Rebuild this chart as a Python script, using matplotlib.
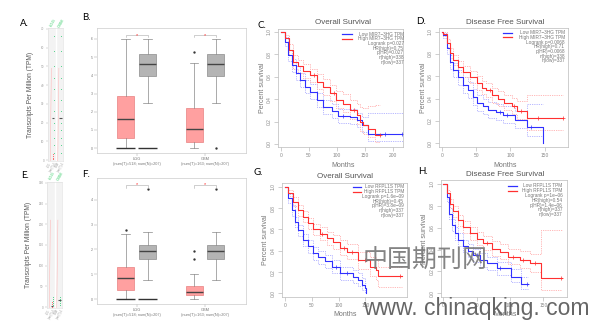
import matplotlib
matplotlib.use("Agg")
import matplotlib.pyplot as plt
from matplotlib.lines import Line2D

W, H = 594, 321
fig = plt.figure(figsize=(W / 100, H / 100), dpi=100)
fig.patch.set_facecolor("white")
plt.rcParams["font.family"] = ["Liberation Sans", "DejaVu Sans"]

RED = "#ff3030"
BLUE = "#3030ff"
PINK = "#ffb0b0"
LBLUE = "#b0b0ff"
GRAY = "#555555"

def fx(x):
    return x / W

def fy(y):
    return 1 - y / H

def add_ax(x0, y0, x1, y1):
    return fig.add_axes([fx(x0), fy(y1), (x1 - x0) / W, (y1 - y0) / H])

def ftext(x, y, s, **kw):
    fig.text(fx(x), fy(y), s, **kw)

# ---------------- data: boxplots (B, F) ----------------
groups = ["LGG", "GBM"]
group_sub = ["(num(T)=518; num(N)=207)", "(num(T)=163; num(N)=207)"]
b_ticks = [0, 1, 2, 3, 4, 5, 6]
b_med = [1.6, 4.6, 1.04, 4.6]
b_q1 = [0.55, 3.96, 0.33, 3.96]
b_q3 = [2.86, 5.16, 2.2, 5.16]
b_lo = [0.0, 2.47, 0.0, 2.47]
b_hi = [6.0, 6.0, 4.7, 6.0]
b_fly = [[], [], [5.3], [0.0]]
b_zero = [True, True, False, False]

f_ticks = [0, 1, 2, 3, 4]
f_med = [0.84, 1.95, 0.3, 1.95]
f_q1 = [0.38, 1.6, 0.15, 1.6]
f_q3 = [1.3, 2.18, 0.54, 2.18]
f_lo = [0.0, 0.77, 0.0, 0.77]
f_hi = [2.62, 2.71, 1.0, 2.71]
f_fly = [[2.78], [4.42], [1.95, 1.6], [4.42]]
f_zero = [True, True, False, False]

# ---------------- data: survival ----------------
c_t_high = [0, 7.6, 15.3, 22.4, 31, 40, 52, 64, 76, 88, 99, 111, 123, 135, 140, 146, 155, 168, 176]
c_s_high = [1.0, 0.94, 0.84, 0.73, 0.69, 0.65, 0.61, 0.555, 0.505, 0.45, 0.39, 0.36, 0.30, 0.26, 0.20, 0.17, 0.13, 0.08, 0.08]
c_up_high = [1.0, 0.97, 0.89, 0.79, 0.75, 0.71, 0.67, 0.62, 0.575, 0.525, 0.47, 0.445, 0.39, 0.355, 0.33, 0.32, 0.34, 0.35, 0.35]
c_lo_high = [1.0, 0.91, 0.79, 0.67, 0.63, 0.59, 0.55, 0.49, 0.44, 0.38, 0.32, 0.285, 0.22, 0.18, 0.12, 0.09, 0.06, 0.02, 0.02]
c_cens_high = [60, 95, 130, 176]
c_t_low = [0, 7.6, 13.6, 20.6, 26.6, 34, 43, 52, 64, 76, 90.6, 102, 123, 135, 144, 155, 218]
c_s_low = [1.0, 0.91, 0.79, 0.70, 0.63, 0.57, 0.51, 0.466, 0.39, 0.33, 0.29, 0.25, 0.243, 0.21, 0.17, 0.089, 0.089]
c_up_low = [1.0, 0.95, 0.84, 0.76, 0.69, 0.63, 0.57, 0.53, 0.455, 0.395, 0.355, 0.315, 0.31, 0.28, 0.24, 0.28, 0.28]
c_lo_low = [1.0, 0.87, 0.74, 0.64, 0.57, 0.51, 0.45, 0.40, 0.33, 0.27, 0.23, 0.19, 0.18, 0.15, 0.11, 0.03, 0.03]
c_cens_low = [110, 185, 215]

d_t_high = [0, 2.4, 7.3, 12, 17, 24, 31, 41, 51, 58, 65, 73, 82, 90, 102, 109, 124.5, 177]
d_s_high = [1.0, 0.98, 0.895, 0.805, 0.745, 0.685, 0.64, 0.596, 0.54, 0.50, 0.477, 0.43, 0.40, 0.363, 0.33, 0.29, 0.23, 0.23]
d_up_high = [1.0, 1.0, 0.93, 0.85, 0.79, 0.735, 0.69, 0.65, 0.60, 0.56, 0.54, 0.50, 0.47, 0.435, 0.41, 0.375, 0.43, 0.43]
d_lo_high = [1.0, 0.96, 0.86, 0.76, 0.70, 0.635, 0.59, 0.54, 0.48, 0.44, 0.415, 0.365, 0.335, 0.295, 0.26, 0.215, 0.12, 0.12]
d_cens_high = [70, 105, 115, 140, 176]
d_t_low = [0, 2.4, 7.3, 12, 17, 24, 31, 38, 45, 52, 60, 67, 79, 89, 106, 124.5, 147]
d_s_low = [1.0, 0.97, 0.85, 0.73, 0.656, 0.59, 0.52, 0.477, 0.417, 0.358, 0.33, 0.30, 0.283, 0.253, 0.21, 0.15, 0.0]
d_up_low = [1.0, 0.99, 0.90, 0.79, 0.72, 0.655, 0.59, 0.55, 0.49, 0.43, 0.40, 0.37, 0.355, 0.33, 0.29, 0.35, 0.35]
d_lo_low = [1.0, 0.94, 0.80, 0.67, 0.59, 0.52, 0.45, 0.405, 0.345, 0.29, 0.26, 0.23, 0.21, 0.18, 0.14, 0.07, 0.07]
d_cens_low = [85, 95, 130]

g_t_high = [0, 6.2, 15.6, 25, 34, 43.6, 53, 65, 78, 90, 103, 115, 137, 159, 171, 174, 218]
g_s_high = [1.0, 0.94, 0.86, 0.78, 0.72, 0.656, 0.60, 0.56, 0.515, 0.48, 0.43, 0.39, 0.31, 0.25, 0.22, 0.16, 0.16]
g_up_high = [1.0, 0.97, 0.90, 0.83, 0.77, 0.71, 0.655, 0.62, 0.575, 0.545, 0.50, 0.46, 0.39, 0.34, 0.32, 0.25, 0.25]
g_lo_high = [1.0, 0.91, 0.82, 0.73, 0.67, 0.60, 0.545, 0.50, 0.455, 0.415, 0.36, 0.32, 0.23, 0.16, 0.13, 0.06, 0.06]
g_cens_high = [70, 110, 125, 150, 215]
g_t_low = [0, 6.2, 12.5, 18.7, 25, 34, 43.6, 53, 62, 75, 87, 103, 128, 137, 143, 149.5, 151]
g_s_low = [1.0, 0.89, 0.78, 0.67, 0.59, 0.50, 0.44, 0.375, 0.34, 0.30, 0.25, 0.19, 0.156, 0.125, 0.078, 0.047, 0.0]
g_up_low = [1.0, 0.93, 0.83, 0.72, 0.645, 0.56, 0.50, 0.435, 0.40, 0.36, 0.31, 0.25, 0.22, 0.19, 0.14, 0.10, 0.10]
g_lo_low = [1.0, 0.85, 0.73, 0.62, 0.535, 0.44, 0.38, 0.315, 0.28, 0.24, 0.19, 0.13, 0.10, 0.07, 0.03, 0.01, 0.0]
g_cens_low = [95, 115]

h_t_high = [0, 5, 10, 15, 22.5, 30, 40, 50, 60, 72.5, 85, 97.5, 115, 130, 146, 177.5]
h_s_high = [1.0, 0.915, 0.82, 0.75, 0.67, 0.61, 0.55, 0.50, 0.457, 0.41, 0.38, 0.335, 0.305, 0.275, 0.137, 0.137]
h_up_high = [1.0, 0.95, 0.86, 0.80, 0.72, 0.665, 0.61, 0.56, 0.52, 0.475, 0.45, 0.41, 0.385, 0.36, 0.58, 0.58]
h_lo_high = [1.0, 0.88, 0.78, 0.70, 0.62, 0.555, 0.49, 0.44, 0.395, 0.345, 0.31, 0.265, 0.23, 0.195, 0.03, 0.03]
h_cens_high = [65, 105, 120, 138, 176]
h_t_low = [0, 5, 9, 12.5, 17.5, 22.5, 30, 37.5, 45, 55, 65, 80, 101, 116, 127.5]
h_s_low = [1.0, 0.88, 0.73, 0.625, 0.55, 0.49, 0.433, 0.39, 0.35, 0.305, 0.275, 0.23, 0.152, 0.085, 0.085]
h_up_low = [1.0, 0.92, 0.78, 0.68, 0.61, 0.55, 0.49, 0.45, 0.41, 0.365, 0.335, 0.29, 0.22, 0.15, 0.15]
h_lo_low = [1.0, 0.84, 0.68, 0.57, 0.49, 0.43, 0.375, 0.33, 0.29, 0.245, 0.215, 0.17, 0.10, 0.04, 0.04]
h_cens_low = [50, 85, 125]

surv_ticks_x_c = [0, 50, 100, 150, 200]
surv_ticks_x_d = [0, 50, 100, 150]
surv_ticks_y = [0.0, 0.2, 0.4, 0.6, 0.8, 1.0]

legend_c = ["Low MIR7\u22123HG TPM", "High MIR7\u22123HG TPM", "Logrank p=0.027", "HR(high)=0.75",
            "p(HR)=0.027", "n(high)=338", "n(low)=337"]
legend_d = ["Low MIR7\u22123HG TPM", "High MIR7\u22123HG TPM", "Logrank p=0.0068", "HR(high)=0.71",
            "p(HR)=0.0068", "n(high)=338", "n(low)=337"]
legend_g = ["Low RFPL1S TPM", "High RFPL1S TPM", "Logrank p=1.6e\u221209", "HR(high)=0.45",
            "p(HR)=3.8e\u221209", "n(high)=337", "n(low)=337"]
legend_h = ["Low RFPL1S TPM", "High RFPL1S TPM", "Logrank p=1e\u221206", "HR(high)=0.54",
            "p(HR)=1.4e\u221206", "n(high)=337", "n(low)=337"]

# ---------------- data: narrow panels (A, E) ----------------
a_ticks = [0, 10, 20, 30, 40, 50, 60, 70]
a_median = [22.7, 22.7]
a_tumor_pts = [0.5, 1.0, 2.0, 3.5]
a_normal_pts = [4, 8, 12, 16, 20, 26, 32, 38, 44, 50, 58, 66]
e_ticks = [0, 50, 100, 150, 200, 250, 300]
e_median = [3, 18]
e_tumor_pts = [1, 4, 8, 12]
e_normal_pts = [5, 10, 15, 20, 25]


# ---------------- box plot panels ----------------
def box_panel(rect, ticks, med, q1, q3, lo, hi, fly, zero, ylim, bracket_y):
    ax = add_ax(*rect)
    pos = []
    for g in range(len(groups)):
        pos += [g + 1 - 0.16, g + 1 + 0.16]
    stats = []
    for i in range(4):
        stats.append(dict(med=med[i], q1=q1[i], q3=q3[i], whislo=lo[i], whishi=hi[i], fliers=fly[i]))
    bp = ax.bxp(stats, positions=pos, widths=0.25, patch_artist=True, showcaps=True,
                boxprops=dict(linewidth=0.5),
                medianprops=dict(color="#444444", linewidth=1.0),
                whiskerprops=dict(color="#888888", linewidth=0.5),
                capprops=dict(color="#888888", linewidth=0.5),
                flierprops=dict(marker="o", markersize=0.7, markerfacecolor="#333333",
                                markeredgecolor="#333333"))
    for i, patch in enumerate(bp["boxes"]):
        if i % 2 == 0:
            patch.set_facecolor("#ffa0a0")
            patch.set_edgecolor("#e88080")
        else:
            patch.set_facecolor("#b4b4b4")
            patch.set_edgecolor("#8c8c8c")
    for i in range(4):
        if zero[i]:
            ax.hlines(0, pos[i] - 0.14, pos[i] + 0.14, color="#333333", linewidth=1.0)
    for g in range(len(groups)):
        x0, x1 = pos[2 * g], pos[2 * g + 1]
        ax.plot([x0, x0, x1, x1], [bracket_y - 0.12, bracket_y, bracket_y, bracket_y - 0.12],
                color="#aaaaaa", linewidth=0.4)
        ax.text((x0 + x1) / 2, bracket_y, "*", color=RED, fontsize=4, ha="center", va="center")
    ax.set_xlim(0.42, 2.6)
    ax.set_ylim(*ylim)
    ax.set_yticks(ticks)
    ax.set_yticklabels([str(t) for t in ticks], fontsize=2.5, color=GRAY)
    ax.set_xticks([1, 2])
    ax.set_xticklabels([f"{g}\n{s}" for g, s in zip(groups, group_sub)], fontsize=2.8,
                       color="#777777", linespacing=1.3)
    ax.tick_params(length=2, width=0.3, colors="#999999", pad=1)
    for lab in ax.get_xticklabels() + ax.get_yticklabels():
        lab.set_color("#777777")
    for s in ax.spines.values():
        s.set_color("#cccccc")
        s.set_linewidth(0.5)
    return ax

box_panel((97, 28, 246, 153), b_ticks, b_med, b_q1, b_q3, b_lo, b_hi, b_fly, b_zero,
          (-0.27, 6.6), 6.2)
box_panel((97, 178, 246, 304), f_ticks, f_med, f_q1, f_q3, f_lo, f_hi, f_fly, f_zero,
          (-0.2, 4.88), 4.6)


def step_at(t, s, x):
    v = s[0]
    for ti, si in zip(t, s):
        if ti <= x:
            v = si
    return v


# ---------------- survival panels ----------------
def surv_panel(rect, xlim, ylim, xticks, high, low, legend, leg_right, leg_rows, samp, title, title_xy,
               months_y):
    ax = add_ax(*rect)
    th, sh, uh, lh, ch = high
    tl, sl, ul, ll, cl = low
    for t, u, l, c in ((tl, ul, ll, LBLUE), (th, uh, lh, PINK)):
        ax.step(t, u, where="post", color=c, linewidth=0.6, linestyle=(0, (1.5, 1.2)))
        ax.step(t, l, where="post", color=c, linewidth=0.6, linestyle=(0, (1.5, 1.2)))
    ax.step(tl, sl, where="post", color=BLUE, linewidth=0.8)
    ax.step(th, sh, where="post", color=RED, linewidth=0.8)
    ax.plot(cl, [step_at(tl, sl, x) for x in cl], "+", color=BLUE, markersize=2.2, markeredgewidth=0.5)
    ax.plot(ch, [step_at(th, sh, x) for x in ch], "+", color=RED, markersize=2.2, markeredgewidth=0.5)
    ax.set_xlim(*xlim)
    ax.set_ylim(*ylim)
    ax.set_xticks(xticks)
    ax.set_xticklabels([str(t) for t in xticks], fontsize=3.5, color="#888888")
    ax.set_yticks(surv_ticks_y)
    ax.set_yticklabels([f"{t:.1f}" for t in surv_ticks_y], fontsize=3.5, color="#888888",
                       rotation=90, va="center")
    ax.tick_params(length=3, width=0.4, colors="#aaaaaa", pad=1.5)
    for lab in ax.get_xticklabels() + ax.get_yticklabels():
        lab.set_color("#888888")
    for s in ax.spines.values():
        s.set_color("#bbbbbb")
        s.set_linewidth(0.5)
    for i, (txt, y) in enumerate(zip(legend, leg_rows)):
        ftext(leg_right, y, txt, fontsize=3.4, color="#777777", ha="right", va="center")
        if i < 2:
            fig.add_artist(Line2D([fx(samp[0]), fx(samp[1])], [fy(y), fy(y)],
                                  color=BLUE if i == 0 else RED, linewidth=0.9))
    ftext(title_xy[0], title_xy[1], title, fontsize=5.8, color=GRAY, ha="center", va="center")
    ftext(title_xy[0], months_y, "Months", fontsize=5, color="#777777", ha="center", va="center")
    ftext(rect[0] - 16, (rect[1] + rect[3]) / 2, "Percent survival", fontsize=5, color="#777777",
          ha="center", va="center", rotation=90)
    return ax

surv_panel((278, 29.3, 403.3, 146.7), (-4.8, 217.8), (-0.024, 1.021), surv_ticks_x_c,
           (c_t_high, c_s_high, c_up_high, c_lo_high, c_cens_high),
           (c_t_low, c_s_low, c_up_low, c_lo_low, c_cens_low),
           legend_c, 404, [34, 38.7, 43.4, 48.1, 52.8, 57.5, 62.2], (341.5, 351.5),
           "Overall Survival", (343, 23), 166)
surv_panel((439.3, 28.3, 568, 146.7), (-3.5, 183.6), (-0.03, 1.03), surv_ticks_x_d,
           (d_t_high, d_s_high, d_up_high, d_lo_high, d_cens_high),
           (d_t_low, d_s_low, d_up_low, d_lo_low, d_cens_low),
           legend_d, 565, [32.7, 37.4, 42.1, 46.8, 51.5, 56.2, 60.9], (503, 512),
           "Disease Free Survival", (505, 22), 166)
surv_panel((281.7, 182.7, 406.7, 296.7), (-6.2, 227.5), (-0.031, 1.038), surv_ticks_x_d,
           (g_t_high, g_s_high, g_up_high, g_lo_high, g_cens_high),
           (g_t_low, g_s_low, g_up_low, g_lo_low, g_cens_low),
           legend_g, 404, [186.7, 191.5, 196.3, 201.1, 205.9, 210.7, 215.5], (353, 361),
           "Overall Survival", (345, 176.5), 315)
surv_panel((440.7, 180, 566.7, 296.7), (-3.9, 185), (-0.031, 1.037), surv_ticks_x_d,
           (h_t_high, h_s_high, h_up_high, h_lo_high, h_cens_high),
           (h_t_low, h_s_low, h_up_low, h_lo_low, h_cens_low),
           legend_h, 562.7, [186, 190.8, 195.6, 200.4, 205.2, 210, 214.8], (508, 517),
           "Disease Free Survival", (505, 175), 315)


# ---------------- narrow panels ----------------
def narrow_panel(rect, ticks, ylim, median, tpts, npts, label_y_top, label_y_bot):
    ax = add_ax(*rect)
    ax.set_facecolor("#f3f3f3")
    ax.set_xlim(0, 2)
    ax.set_ylim(*ylim)
    ax.axvline(1.0, color="white", linewidth=1.0)
    ax.plot([0.3, 0.45], [ylim[0], ticks[-1] * 0.7], color="#ffbbbb", linewidth=0.4)
    ax.plot([1.3, 1.45], [ylim[0], ticks[-1] * 0.7], color="#ffbbbb", linewidth=0.4)
    ax.scatter([0.6] * len(tpts), tpts, s=0.6, color="#ff6060", linewidths=0)
    ax.scatter([0.75] * len(npts), npts, s=0.4, color="#40d080", linewidths=0)
    ax.scatter([1.75] * len(npts), npts, s=0.4, color="#40d080", linewidths=0)
    ax.hlines(median[0], 0.5, 0.85, color="#555555", linewidth=0.8)
    ax.hlines(median[1], 1.5, 1.85, color="#555555", linewidth=0.8)
    ax.set_xticks([])
    ax.set_yticks(ticks)
    ax.set_yticklabels([str(t) for t in ticks], fontsize=2.2, color="#999999")
    ax.tick_params(length=1.5, width=0.3, colors="#aaaaaa", pad=1)
    for lab in ax.get_yticklabels():
        lab.set_color("#999999")
    for s in ax.spines.values():
        s.set_color("#dddddd")
        s.set_linewidth(0.4)
    for i, g in enumerate(groups):
        x = rect[0] + 5 + i * 8
        ftext(x, label_y_top, g, fontsize=3, color="#33cc66", rotation=60, ha="center", va="center")
        ftext(x - 2, label_y_bot, g + "\n" + group_sub[i][:9], fontsize=1.8, color="#999999",
              rotation=60, ha="center", va="center")
    ftext(rect[0] - 18, (rect[1] + rect[3]) / 2, "Transcripts Per Million (TPM)", fontsize=4.8,
          color=GRAY, ha="center", va="center", rotation=90)
    return ax

narrow_panel((48, 28, 63, 161), a_ticks, (-0.5, 70.5), a_median, a_tumor_pts, a_normal_pts, 23, 166)
narrow_panel((47, 182, 62, 308), e_ticks, (-2, 302), e_median, e_tumor_pts, e_normal_pts, 176, 313)

# ---------------- panel letters ----------------
for lab, x, y in [("A.", 24, 23), ("B.", 86, 17), ("C.", 262, 25), ("D.", 421, 22),
                  ("E.", 25, 176), ("F.", 86, 175), ("G.", 258, 173), ("H.", 423, 172)]:
    ftext(x, y, lab, fontsize=7, color="black", ha="center", va="center", family="Lato")

# ---------------- watermark ----------------
ftext(425, 261, "中国期刊网", fontsize=18, color="#777777", ha="center", va="center",
      family=["Noto Sans CJK SC", "DejaVu Sans"], fontweight="light", alpha=0.9)
ftext(363, 309, "www. chinaqking. com", fontsize=16.5, color="#666666", ha="left", va="center",
      family="Liberation Sans")

fig.savefig("out.png", dpi=100)
